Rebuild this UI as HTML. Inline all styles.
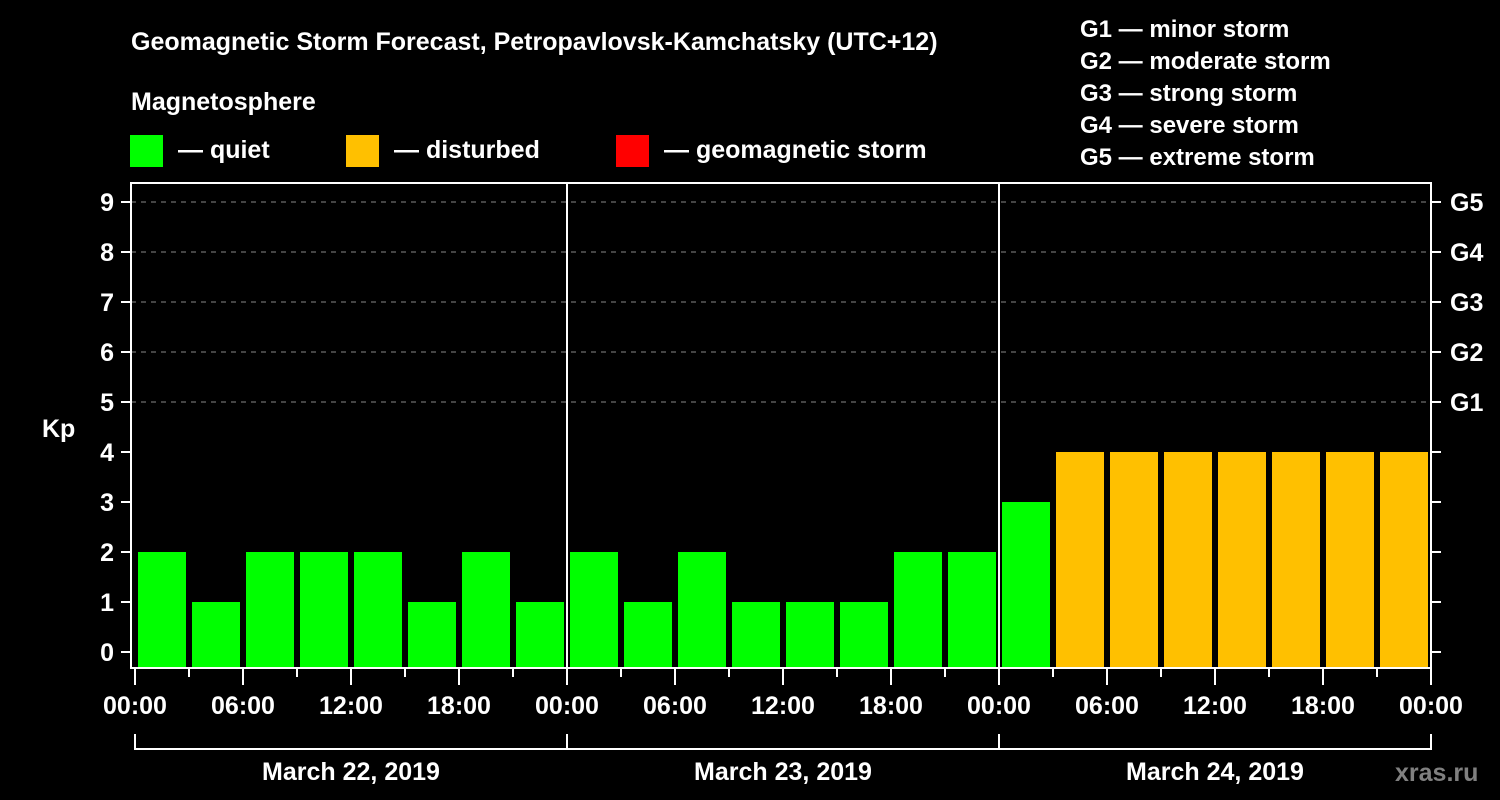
<!DOCTYPE html>
<html><head><meta charset="utf-8"><style>
html,body{margin:0;padding:0;background:#000;}
svg{display:block;font-family:"Liberation Sans",sans-serif;font-weight:bold;}
</style></head><body>
<svg id="chart" width="1500" height="800" viewBox="0 0 1500 800" xmlns="http://www.w3.org/2000/svg">
<rect width="1500" height="800" fill="#000"/>
<text x="131" y="50" fill="#fff" font-size="25">Geomagnetic Storm Forecast, Petropavlovsk-Kamchatsky (UTC+12)</text>
<text x="131" y="110" fill="#fff" font-size="25">Magnetosphere</text>
<g><rect x="130" y="135" width="33" height="32" fill="#00ff00"/><text x="178" y="158" fill="#fff" font-size="25">— quiet</text></g>
<g><rect x="346" y="135" width="33" height="32" fill="#ffc000"/><text x="394" y="158" fill="#fff" font-size="25">— disturbed</text></g>
<g><rect x="616" y="135" width="33" height="32" fill="#ff0000"/><text x="664" y="158" fill="#fff" font-size="25">— geomagnetic storm</text></g>
<g fill="#fff" font-size="24">
<text x="1080" y="37">G1 — minor storm</text>
<text x="1080" y="69">G2 — moderate storm</text>
<text x="1080" y="101">G3 — strong storm</text>
<text x="1080" y="133">G4 — severe storm</text>
<text x="1080" y="165">G5 — extreme storm</text>
</g>
<text x="42" y="437" fill="#fff" font-size="25">Kp</text>
<g id="grid"></g><g id="bars"></g><g id="axes"></g>
<text x="1395" y="781" fill="#808080" font-size="25">xras.ru</text>
</svg>
<script>
const kpValues=[2,1,2,2,2,1,2,1, 2,1,2,1,1,1,2,2, 3,4,4,4,4,4,4,4];
const kpStatus=['q','q','q','q','q','q','q','q','q','q','q','q','q','q','q','q','q','d','d','d','d','d','d','d'];
const dayLabels=['March 22, 2019','March 23, 2019','March 24, 2019'];
const hourLabels=['00:00','06:00','12:00','18:00'];
const yTicks=[0,1,2,3,4,5,6,7,8,9];
const gLabels=['G1','G2','G3','G4','G5'];
const gKp=[5,6,7,8,9];
const NS='http://www.w3.org/2000/svg';
const L=131,R=1431,T=183,B=668,X0=135,dayW=432;
const y=v=>652-50*v;
const x=slot=>X0+slot*54;
const colors={q:'#00ff00',d:'#ffc000',s:'#ff0000'};
function mk(tag,attrs,parent){const e=document.createElementNS(NS,tag);for(const k in attrs)e.setAttribute(k,attrs[k]);parent.appendChild(e);return e;}
const grid=document.getElementById('grid'),bars=document.getElementById('bars'),axes=document.getElementById('axes');
yTicks.forEach(v=>{
  if(v>=5){const gl=mk('line',{x1:L,x2:R,y1:y(v),y2:y(v),stroke:'#888','stroke-dasharray':'5,5','stroke-width':1},grid);
    
    }
  const t=mk('line',{x1:121,x2:L,y1:y(v),y2:y(v),stroke:'#fff','stroke-width':2},axes);
  
  
  const t2=mk('line',{x1:R,x2:1441,y1:y(v),y2:y(v),stroke:'#fff','stroke-width':2},axes);
  
  
  const lb=mk('text',{x:114,y:y(v)+9,fill:'#fff','font-size':25,'text-anchor':'end'},axes);lb.textContent=v;
  
  
});
gLabels.forEach((g,i)=>{
  const lb=mk('text',{x:1450,y:y(gKp[i])+9,fill:'#fff','font-size':25},axes);lb.textContent=g;
  
  
});
kpValues.forEach((v,i)=>{
  const r=mk('rect',{x:x(i)+3,y:y(v),width:48,height:B-y(v),fill:colors[kpStatus[i]]},bars);
  
  
});
const frame=mk('rect',{x:L,y:T,width:R-L,height:B-T,fill:'none',stroke:'#fff','stroke-width':2},axes);


for(let d=1;d<dayLabels.length;d++){
  const s=mk('line',{x1:X0+d*dayW,x2:X0+d*dayW,y1:T,y2:B,stroke:'#fff','stroke-width':2},axes);
  
  
}
for(let i=0;i<=kpValues.length;i++){
  const major=i%2===0;
  const t=mk('line',{x1:x(i),x2:x(i),y1:B,y2:major?685:677,stroke:'#fff','stroke-width':2},axes);
  
  
  if(major){const lb=mk('text',{x:x(i),y:714,fill:'#fff','font-size':25,'text-anchor':'middle'},axes);
    lb.textContent=hourLabels[(i/2)%4];
    
    }
}
const br=mk('line',{x1:X0,x2:X0+dayLabels.length*dayW,y1:749,y2:749,stroke:'#fff','stroke-width':2},axes);


for(let d=0;d<=dayLabels.length;d++){
  const v=mk('line',{x1:X0+d*dayW,x2:X0+d*dayW,y1:734,y2:750,stroke:'#fff','stroke-width':2},axes);
  
  
}
dayLabels.forEach((d,i)=>{
  const lb=mk('text',{x:X0+i*dayW+dayW/2,y:780,fill:'#fff','font-size':25,'text-anchor':'middle'},axes);lb.textContent=d;
  
  
});
</script>
</body></html>
